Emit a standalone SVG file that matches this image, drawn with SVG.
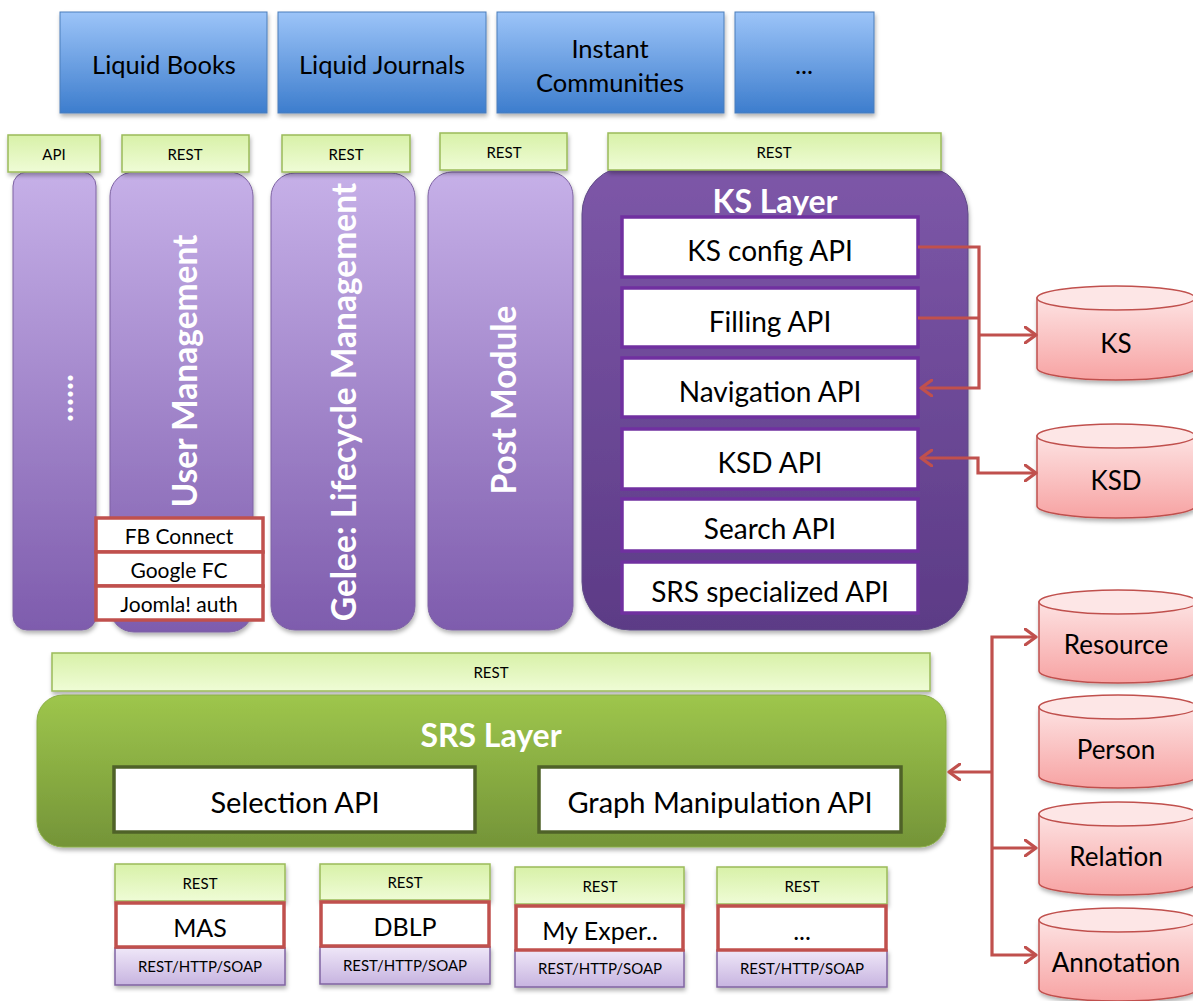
<svg xmlns="http://www.w3.org/2000/svg" width="1193" height="1001" viewBox="0 0 1193 1001">
<defs>
  <linearGradient id="gBlue" x1="0" y1="0" x2="0" y2="1"><stop offset="0" stop-color="#9cc4f8"/><stop offset="1" stop-color="#3d7dcd"/></linearGradient>
  <linearGradient id="gLabel" x1="0" y1="0" x2="0" y2="1"><stop offset="0" stop-color="#d8f1a8"/><stop offset="1" stop-color="#effcd6"/></linearGradient>
  <linearGradient id="gCol" x1="0" y1="0" x2="0" y2="1"><stop offset="0" stop-color="#c6b0e8"/><stop offset="1" stop-color="#7e5cad"/></linearGradient>
  <linearGradient id="gKS" x1="0" y1="0" x2="0" y2="1"><stop offset="0" stop-color="#7d57a8"/><stop offset="1" stop-color="#5c3b86"/></linearGradient>
  <linearGradient id="gSRS" x1="0" y1="0" x2="0" y2="1"><stop offset="0" stop-color="#9ec64c"/><stop offset="1" stop-color="#749438"/></linearGradient>
  <linearGradient id="gCyl" x1="0" y1="0" x2="0" y2="1"><stop offset="0" stop-color="#fde2e2"/><stop offset="1" stop-color="#f7a3a3"/></linearGradient>
  <linearGradient id="gProto" x1="0" y1="0" x2="0" y2="1"><stop offset="0" stop-color="#efe7f8"/><stop offset="1" stop-color="#c7b4e0"/></linearGradient>
  <filter id="sh" x="-10%" y="-10%" width="120%" height="130%"><feDropShadow dx="1" dy="3" stdDeviation="2" flood-color="#000" flood-opacity="0.3"/></filter>
  <marker id="arr" viewBox="0 0 14 18" refX="12" refY="9" markerWidth="14" markerHeight="18" markerUnits="userSpaceOnUse" orient="auto-start-reverse">
    <path d="M1,1 L12,9 L1,17" fill="none" stroke="#c0504d" stroke-width="3.2" stroke-linecap="round" stroke-linejoin="round"/>
  </marker>
  <style>
    text { font-family: Lato, "Open Sans", "Liberation Sans", sans-serif; fill: #000; text-anchor: middle; }
    .blue { fill: url(#gBlue); stroke: #4a7ebb; stroke-width: 1; filter: url(#sh); }
    .lbl { fill: url(#gLabel); stroke: #9bbb59; stroke-width: 1.5; filter: url(#sh); }
    .col { fill: url(#gCol); stroke: #7e63a3; stroke-width: 1; filter: url(#sh); }
    .ks { fill: url(#gKS); stroke: #5f4a86; stroke-width: 1; filter: url(#sh); }
    .srs { fill: url(#gSRS); stroke: #8aad47; stroke-width: 1; filter: url(#sh); }
    .kbox { fill: #fff; stroke: #7030a0; stroke-width: 3.5; }
    .gbox { fill: #fff; stroke: #4f6228; stroke-width: 3.5; }
    .rbox { fill: #fff; stroke: #c0504d; stroke-width: 3.5; }
    .proto { fill: url(#gProto); stroke: #8064a2; stroke-width: 1.5; filter: url(#sh); }
    .cyl { fill: url(#gCyl); stroke: #c0504d; stroke-width: 1.5; filter: url(#sh); }
    .cyltop { fill: #fde6e6; stroke: #c0504d; stroke-width: 1.5; }
    .t24 { font-size: 25.5px; }
    .tdb { font-size: 26px; }
    .t15 { font-size: 15px; }
    .t26 { font-size: 28px; }
    .t27 { font-size: 29px; }
    .t20 { font-size: 21px; }
    .t23 { font-size: 25px; }
    .title { font-size: 32px; font-weight: bold; fill: #fff; }
    .vert { font-size: 33.5px; font-weight: bold; fill: #fff; }
    .conn { fill: none; stroke: #c0504d; stroke-width: 3.2; }
  </style>
</defs>

<!-- top application boxes -->
<g id="liquid-books"><rect class="blue" x="60" y="12" width="207" height="101"/><text class="t24" x="164" y="74">Liquid Books</text></g>
<g id="liquid-journals"><rect class="blue" x="278" y="12" width="208" height="101"/><text class="t24" x="382" y="74">Liquid Journals</text></g>
<g id="instant-communities"><rect class="blue" x="497" y="12" width="227" height="101"/><text class="t24" x="610" y="58">Instant</text><text class="t24" x="610" y="92">Communities</text></g>
<g id="apps-more"><rect class="blue" x="735" y="12" width="139" height="101"/><text class="t24" x="804" y="74">...</text></g>

<!-- vertical modules -->
<g id="col-dots"><rect class="col" x="13" y="172" width="83" height="458" rx="14"/><text class="vert" transform="translate(73,398) rotate(-90)">......</text></g>
<g id="user-management"><rect class="col" x="110" y="172" width="143" height="460" rx="24"/><text class="vert" transform="translate(197,371) rotate(-90)">User Management</text></g>
<g id="gelee"><rect class="col" x="271" y="173" width="144" height="457" rx="24"/><text class="vert" transform="translate(356,402) rotate(-90)">Gelee: Lifecycle Management</text></g>
<g id="post-module"><rect class="col" x="428" y="172" width="145" height="458" rx="24"/><text class="vert" transform="translate(516,400) rotate(-90)">Post Module</text></g>

<!-- auth boxes -->
<g id="fb-connect"><rect class="rbox" x="96" y="518" width="167" height="34"/><text class="t20" x="179" y="544">FB Connect</text></g>
<g id="google-fc"><rect class="rbox" x="96" y="552" width="167" height="34"/><text class="t20" x="179" y="578">Google FC</text></g>
<g id="joomla-auth"><rect class="rbox" x="96" y="586" width="167" height="34"/><text class="t20" x="179" y="612">Joomla! auth</text></g>

<!-- KS layer -->
<g id="ks-layer">
  <rect class="ks" x="582" y="166" width="386" height="464" rx="48"/>
  <text class="title" x="775" y="213">KS Layer</text>
  <g id="ks-config-api"><rect class="kbox" x="622" y="217" width="296" height="60"/><text class="t26" x="770" y="261">KS config API</text></g>
  <g id="filling-api"><rect class="kbox" x="622" y="288" width="296" height="59"/><text class="t26" x="770" y="332">Filling API</text></g>
  <g id="navigation-api"><rect class="kbox" x="622" y="358" width="296" height="59"/><text class="t26" x="770" y="402">Navigation API</text></g>
  <g id="ksd-api"><rect class="kbox" x="622" y="429" width="296" height="60"/><text class="t26" x="770" y="473">KSD API</text></g>
  <g id="search-api"><rect class="kbox" x="622" y="499" width="296" height="52"/><text class="t26" x="770" y="539">Search API</text></g>
  <g id="srs-specialized-api"><rect class="kbox" x="622" y="562" width="296" height="51"/><text class="t26" x="770" y="602">SRS specialized API</text></g>
</g>

<!-- interface labels -->
<g id="lbl-api"><rect class="lbl" x="8" y="135" width="92" height="37"/><text class="t15" x="54" y="160">API</text></g>
<g id="lbl-rest-um"><rect class="lbl" x="122" y="135" width="127" height="37"/><text class="t15" x="185" y="160">REST</text></g>
<g id="lbl-rest-gelee"><rect class="lbl" x="282" y="135" width="128" height="37"/><text class="t15" x="346" y="160">REST</text></g>
<g id="lbl-rest-post"><rect class="lbl" x="440" y="133" width="127" height="37"/><text class="t15" x="504" y="158">REST</text></g>
<g id="lbl-rest-ks"><rect class="lbl" x="608" y="133" width="333" height="37"/><text class="t15" x="774" y="158">REST</text></g>

<!-- SRS layer -->
<g id="lbl-rest-srs"><rect class="lbl" x="52" y="653" width="878" height="38"/><text class="t15" x="491" y="678">REST</text></g>
<g id="srs-layer">
  <rect class="srs" x="37" y="695" width="909" height="152" rx="26"/>
  <text class="title" x="491" y="747">SRS Layer</text>
  <g id="selection-api"><rect class="gbox" x="114" y="767" width="361" height="65"/><text class="t27" x="295" y="813">Selection API</text></g>
  <g id="graph-manipulation-api"><rect class="gbox" x="539" y="767" width="362" height="65"/><text class="t27" x="720" y="813">Graph Manipulation API</text></g>
</g>

<!-- external sources -->
<g id="src-mas"><rect class="lbl" x="115" y="864" width="170" height="37"/><text class="t15" x="200" y="889">REST</text><rect class="proto" x="115" y="948" width="170" height="37"/><text class="t15" x="200" y="972">REST/HTTP/SOAP</text><rect class="rbox" x="116" y="903" width="168" height="44"/><text class="t23" x="200" y="937">MAS</text></g>
<g id="src-dblp"><rect class="lbl" x="320" y="864" width="170" height="36"/><text class="t15" x="405" y="888">REST</text><rect class="proto" x="320" y="947" width="170" height="37"/><text class="t15" x="405" y="971">REST/HTTP/SOAP</text><rect class="rbox" x="321" y="902" width="168" height="44"/><text class="t23" x="405" y="936">DBLP</text></g>
<g id="src-myexper"><rect class="lbl" x="515" y="867" width="169" height="37"/><text class="t15" x="600" y="892">REST</text><rect class="proto" x="515" y="950" width="169" height="37"/><text class="t15" x="600" y="974">REST/HTTP/SOAP</text><rect class="rbox" x="516" y="906" width="167" height="44"/><text class="t23" x="600" y="940">My Exper..</text></g>
<g id="src-more"><rect class="lbl" x="717" y="867" width="170" height="37"/><text class="t15" x="802" y="892">REST</text><rect class="proto" x="717" y="950" width="170" height="37"/><text class="t15" x="802" y="974">REST/HTTP/SOAP</text><rect class="rbox" x="718" y="906" width="168" height="44"/><text class="t23" x="802" y="940">...</text></g>

<!-- databases -->
<g id="db-ks"><path class="cyl" d="M1037,298 V368 A79,12 0 0 0 1195,368 V298 Z"/><ellipse class="cyltop" cx="1116" cy="298" rx="79" ry="12"/><text class="tdb" x="1116" y="353">KS</text></g>
<g id="db-ksd"><path class="cyl" d="M1037,436 V506 A79,12 0 0 0 1195,506 V436 Z"/><ellipse class="cyltop" cx="1116" cy="436" rx="79" ry="12"/><text class="tdb" x="1116" y="490">KSD</text></g>
<g id="db-resource"><path class="cyl" d="M1039,602 V671 A79,12 0 0 0 1197,671 V602 Z"/><ellipse class="cyltop" cx="1118" cy="602" rx="79" ry="12"/><text class="tdb" x="1116" y="654">Resource</text></g>
<g id="db-person"><path class="cyl" d="M1039,707 V776 A79,12 0 0 0 1197,776 V707 Z"/><ellipse class="cyltop" cx="1118" cy="707" rx="79" ry="12"/><text class="tdb" x="1116" y="759">Person</text></g>
<g id="db-relation"><path class="cyl" d="M1039,814 V883 A79,12 0 0 0 1197,883 V814 Z"/><ellipse class="cyltop" cx="1118" cy="814" rx="79" ry="12"/><text class="tdb" x="1116" y="866">Relation</text></g>
<g id="db-annotation"><path class="cyl" d="M1039,920 V989 A79,12 0 0 0 1197,989 V920 Z"/><ellipse class="cyltop" cx="1118" cy="920" rx="79" ry="12"/><text class="tdb" x="1116" y="972">Annotation</text></g>

<!-- connectors -->
<g id="connectors">
  <path class="conn" d="M918,247 H979 V388 H921" marker-end="url(#arr)"/>
  <path class="conn" d="M918,318 H979"/>
  <path class="conn" d="M979,335 H1036" marker-end="url(#arr)"/>
  <path class="conn" d="M921,458 H978 V473 H1036" marker-start="url(#arr)" marker-end="url(#arr)"/>
  <path class="conn" d="M1036,637 H992 V955 H1036" marker-start="url(#arr)" marker-end="url(#arr)"/>
  <path class="conn" d="M992,848 H1036" marker-end="url(#arr)"/>
  <path class="conn" d="M992,772 H949" marker-end="url(#arr)"/>
</g>
</svg>
